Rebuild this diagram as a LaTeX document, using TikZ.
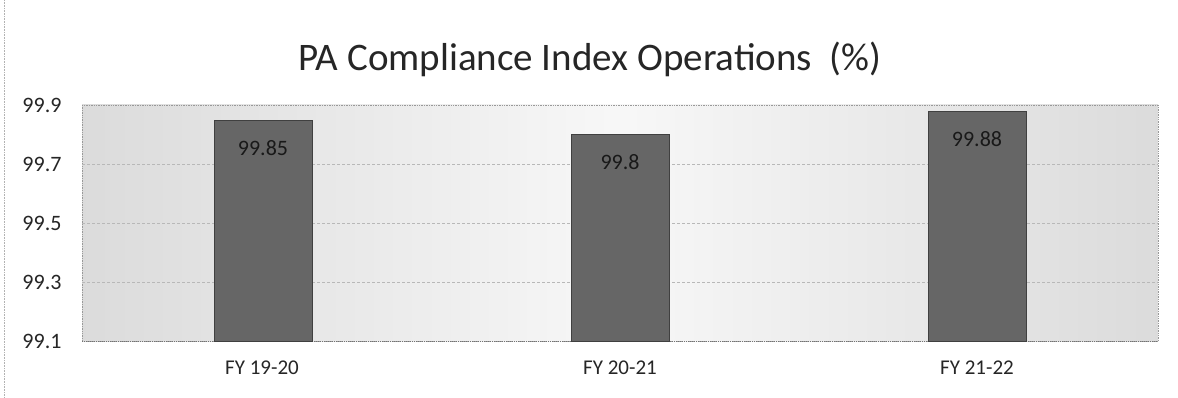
\documentclass[tikz,border=0pt]{standalone}
\usepackage{fontspec}
\setmainfont{Carlito}
\begin{document}
\begin{tikzpicture}[x=1pt,y=-1pt,
  bar/.style={fill=black!60, draw=black!75, line width=0.6pt},
  tick/.style={font=\fontsize{22}{22}\selectfont, anchor=east, text=black!85},
  cat/.style={font=\fontsize{21}{21}\selectfont, text=black!85},
  val/.style={font=\fontsize{22}{22}\selectfont, text=black!90},
  grid/.style={black!28, densely dashed, line width=0.6pt}]
\useasboundingbox (0,0) rectangle (1178,398);
\fill[white] (0,0) rectangle (1178,398);
% left scan edge
\draw[black!30, densely dotted, line width=0.6pt] (4,0) -- (4,398);
% plot area
\shade[left color=black!14, right color=black!14, middle color=black!3] (82,105) rectangle (1158,341);
\draw[black!40, densely dotted, line width=0.7pt] (82,105) rectangle (1158,341);
\draw[black!55, densely dotted, line width=1pt] (82,341) -- (1158,341);
\foreach \yy in {164,223,282} \draw[grid] (82,\yy) -- (1158,\yy);
% title
\node[font=\fontsize{39}{39}\selectfont, text=black!85] (title) at (590,59) {PA Compliance Index Operations\ \ (\%)};
% ticks
\node[tick] (t9) at (65,105) {99.9};
\node[tick] (t7) at (65,164) {99.7};
\node[tick] (t5) at (65,223) {99.5};
\node[tick] (t3) at (65,282) {99.3};
\node[tick] (t1) at (65,341) {99.1};
% bars
\draw[bar] (214,120) rectangle (312,341);
\draw[bar] (571,134) rectangle (669,341);
\draw[bar] (928,111) rectangle (1026,341);
\node[val] (v1) at (263,148) {99.85};
\node[val] (v2) at (620,162) {99.8};
\node[val] (v3) at (977,139) {99.88};
% categories
\node[cat] (c1) at (262,368) {FY 19-20};
\node[cat] (c2) at (620,368) {FY 20-21};
\node[cat] (c3) at (977,368) {FY 21-22};
\end{tikzpicture}
\end{document}
